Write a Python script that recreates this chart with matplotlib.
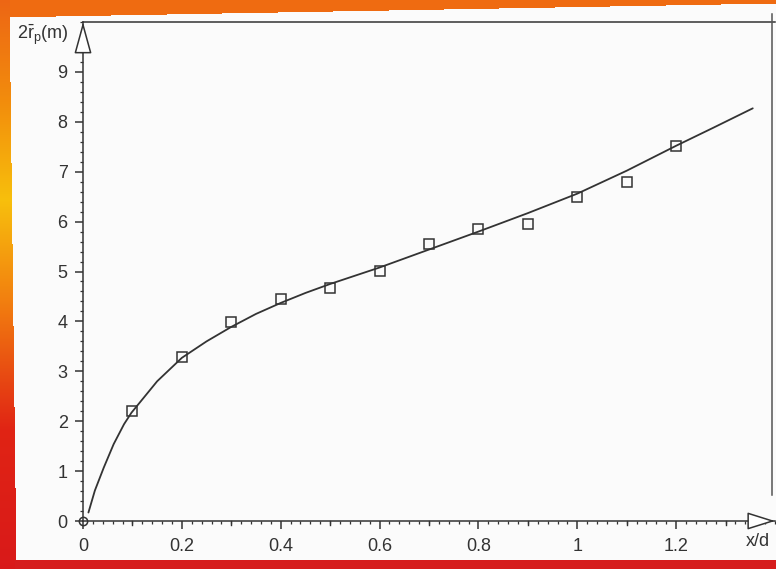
import numpy as np
import matplotlib.pyplot as plt
from matplotlib.ticker import MultipleLocator, FixedLocator
from matplotlib.lines import Line2D

plt.rcParams['font.family'] = ['Liberation Sans', 'DejaVu Sans']
plt.rcParams['mathtext.fontset'] = 'custom'
plt.rcParams['mathtext.rm'] = 'Liberation Sans'

# measured points (open squares)
x_meas = [0.1, 0.2, 0.3, 0.4, 0.5, 0.6, 0.7, 0.8, 0.9, 1.0, 1.1, 1.2]
y_meas = [2.20, 3.29, 3.99, 4.44, 4.67, 5.01, 5.56, 5.86, 5.95, 6.50, 6.80, 7.51]

# fitted curve
x_fit = [0.011, 0.024, 0.042, 0.062, 0.083, 0.098, 0.117, 0.15, 0.2, 0.25, 0.3,
         0.35, 0.4, 0.45, 0.5, 0.6, 0.7, 0.8, 0.9, 1.0, 1.1, 1.2, 1.275, 1.355]
y_fit = [0.17, 0.61, 1.07, 1.54, 1.94, 2.17, 2.40, 2.80, 3.27, 3.60, 3.89,
         4.15, 4.37, 4.57, 4.75, 5.08, 5.44, 5.80, 6.17, 6.56, 7.02, 7.52, 7.88, 8.27]

origin_x = [0]
origin_y = [0]

W, H = 776, 569
fig = plt.figure(figsize=(W / 100, H / 100), dpi=100)

# scanned page background: orange band on top, gradient strip left, red band bottom
bg = np.ones((H, W, 3)) * 0.985
rows = np.arange(H)
cols = np.arange(W)
top_edge = 18 - 14 * cols / W
for c in range(W):
    bg[:int(top_edge[c]), c] = [0.94, 0.42, 0.07]
stops = [(0, (0.93, 0.40, 0.08)), (100, (0.95, 0.55, 0.05)), (200, (0.97, 0.75, 0.05)),
         (300, (0.95, 0.50, 0.06)), (430, (0.88, 0.14, 0.08)), (569, (0.85, 0.10, 0.10))]
sy = [s[0] for s in stops]
for k in range(3):
    colk = np.interp(rows, sy, [s[1][k] for s in stops])
    for r in range(H):
        w = int(10 + 7 * r / H)
        bg[r, :w, k] = colk[r]
bg[560:, 15:] = [0.84, 0.11, 0.11]
bax = fig.add_axes([0, 0, 1, 1])
bax.imshow(bg, aspect='auto', interpolation='bilinear')
bax.axis('off')

ink = '#333333'
ax = fig.add_axes([83 / W, 1 - 521 / H, 692 / W, 499 / H])
ax.patch.set_alpha(0)

ax.plot(x_fit, y_fit, color=ink, lw=1.3, solid_capstyle='round', solid_joinstyle='round')
ax.plot(x_meas, y_meas, 's', ms=6.5, mfc='none', mec=ink, mew=1.1)
ax.plot(origin_x, origin_y, 'o', ms=6, mfc='none', mec=ink, mew=1.1, clip_on=False)

ax.set_xlim(0, 1.4)
ax.set_ylim(0, 10)

ax.spines['right'].set_visible(False)
for s in ['left', 'bottom', 'top']:
    ax.spines[s].set_color(ink)
    ax.spines[s].set_linewidth(1.1)

ax.xaxis.set_major_locator(FixedLocator([0, 0.2, 0.4, 0.6, 0.8, 1.0, 1.2]))
ax.xaxis.set_minor_locator(MultipleLocator(0.02))
ax.set_xticklabels(['0', '0.2', '0.4', '0.6', '0.8', '1', '1.2'])
ax.yaxis.set_major_locator(FixedLocator(range(10)))
ax.yaxis.set_minor_locator(MultipleLocator(0.2))
ax.tick_params(axis='both', which='major', direction='out', length=6, width=1.1,
               color=ink, labelcolor=ink, labelsize=13)
ax.tick_params(axis='x', which='major', pad=6)
ax.tick_params(axis='y', which='major', pad=5)
ax.tick_params(axis='both', which='minor', direction='out', length=2.5, width=0.9, color=ink)
ax.tick_params(top=False, which='both')

# medium ticks at the odd tenths
for xv in [0.1, 0.3, 0.5, 0.7, 0.9, 1.1, 1.3]:
    ax.plot([xv, xv], [0, -0.09], color=ink, lw=1.0, clip_on=False)

# arrow heads on both axes
ax.annotate('', xy=(0, 10), xytext=(0, 9.4), xycoords='data',
            arrowprops=dict(arrowstyle='-|>,head_length=0.8,head_width=0.22', mutation_scale=25,
                            fc='white', ec=ink, lw=1.1, shrinkA=0, shrinkB=0),
            annotation_clip=False)
ax.annotate('', xy=(1.4, 0), xytext=(1.35, 0), xycoords='data',
            arrowprops=dict(arrowstyle='-|>,head_length=0.7,head_width=0.22', mutation_scale=25,
                            fc='white', ec=ink, lw=1.1, shrinkA=0, shrinkB=0),
            annotation_clip=False)

# right edge of the frame
fig.add_artist(Line2D([772 / W, 772 / W], [1 - 14 / H, 1 - 495 / H], color='#555555', lw=1.1))

fig.text(69 / W, 1 - 35 / H, r'$2\bar{\mathrm{r}}_{\mathrm{p}}$(m)', ha='right', va='center',
         fontsize=13, color=ink)
fig.text(758 / W, 1 - 541 / H, 'x/d', ha='center', va='center', fontsize=13, color=ink)

fig.savefig('out.png', dpi=100)
